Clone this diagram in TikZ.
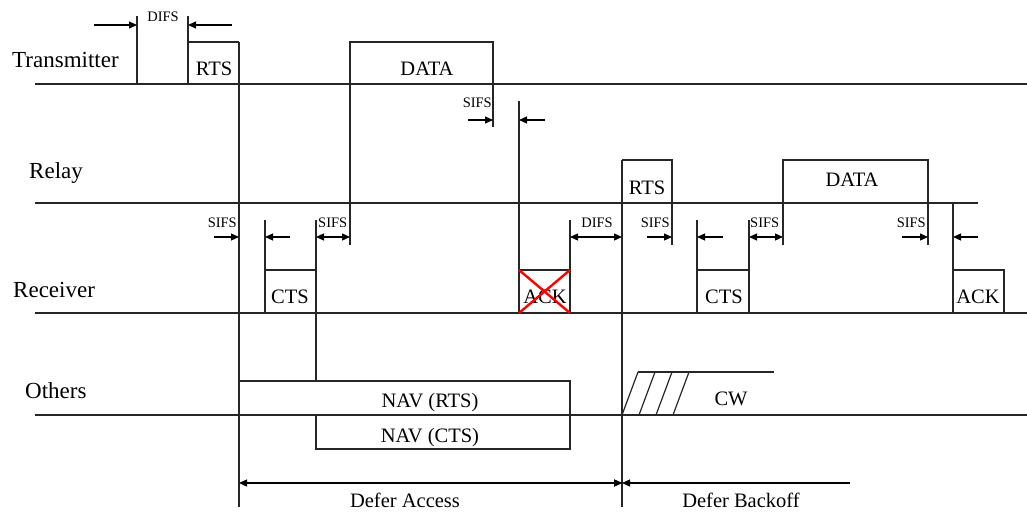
\documentclass[tikz,border=0pt]{standalone}
\usepackage{fontspec}
\setmainfont{Liberation Serif}
\usepackage{tikz}
\usetikzlibrary{arrows.meta}
\tikzset{
  >={Triangle[length=8pt,width=7pt]},
  every picture/.style={line cap=butt, line join=miter},
  lane/.style={black!85, line width=1.2pt},
  gapmark/.style={black, line width=1.2pt},
  fail/.style={red, line width=2.4pt},
  sidelbl/.style={font=\fontsize{23}{26}\selectfont, inner sep=0pt, anchor=base west},
  framelbl/.style={font=\fontsize{20.5}{24}\selectfont, inner sep=0pt, anchor=base},
  gaplbl/.style={font=\fontsize{14.5}{16}\selectfont, inner sep=0pt, anchor=base},
}
\begin{document}
\begin{tikzpicture}[x=1pt, y=-1pt]
\useasboundingbox (0,0) rectangle (1027,511);
% station time lines
\draw[lane] (35,84) -- (1027,84);
\draw[lane] (35,203) -- (978,203);
\draw[lane] (35,313) -- (1027,313);
\draw[lane] (35,415) -- (1027,415);
\node[sidelbl] (tx) at (12,67) {Transmitter};
\node[sidelbl] (relay) at (29,178) {Relay};
\node[sidelbl] (rx) at (13,297) {Receiver};
\node[sidelbl] (oth) at (25,398) {Others};
% transmitter: DIFS, RTS, DATA
\draw[lane] (137,16) -- (137,84);
\draw[lane] (188,16) -- (188,84);
\draw[lane] (188,42) -- (239,42);
\draw[lane] (239,42) -- (239,507);
\draw[gapmark, ->] (94,25) -- (137,25);
\draw[gapmark, ->] (232,25) -- (188,25);
\node[gaplbl] (difs1) at (163,22) {DIFS};
\node[framelbl] (rts1) at (214,75) {RTS};
\draw[lane] (350,245) -- (350,42) -- (493,42) -- (493,127);
\node[framelbl] (data1) at (427,75) {DATA};
\draw[lane] (519,101) -- (519,313);
\draw[gapmark, ->] (468,120) -- (493,120);
\draw[gapmark, ->] (545,120) -- (519,120);
\node[gaplbl, anchor=base east] (sifs1) at (492,107) {SIFS};
% receiver: CTS, lost ACK
\draw[gapmark, ->] (214,237) -- (239,237);
\node[gaplbl, anchor=base east] (sifs2) at (237,227) {SIFS};
\draw[lane] (265,220) -- (265,313);
\draw[lane] (265,270) -- (316,270);
\draw[lane] (316,220) -- (316,381);
\draw[gapmark, ->] (290,237) -- (265,237);
\node[framelbl] (cts1) at (290,303) {CTS};
\draw[gapmark, <->] (316,237) -- (350,237);
\node[gaplbl, anchor=base west] (sifs3) at (318,227) {SIFS};
\draw[lane] (519,270) -- (570,270);
\draw[lane] (570,220) -- (570,313);
\node[framelbl] (ack1) at (545,303) {ACK};
\draw[fail] (519,270) -- (570,313);
\draw[fail] (570,270) -- (519,313);
\draw[gapmark, <->] (570,237) -- (622,237);
\node[gaplbl] (difs2) at (597,227) {DIFS};
% relay: RTS, DATA
\draw[lane] (622,160) -- (622,507);
\draw[lane] (622,160) -- (672,160) -- (672,245);
\node[framelbl] (rts2) at (647,194) {RTS};
\draw[gapmark, ->] (647,237) -- (672,237);
\node[gaplbl, anchor=base east] (sifs4) at (670,227) {SIFS};
\draw[lane] (697,220) -- (697,313);
\draw[lane] (697,270) -- (749,270);
\draw[lane] (749,220) -- (749,313);
\draw[gapmark, ->] (723,237) -- (697,237);
\node[framelbl] (cts2) at (724,303) {CTS};
\draw[gapmark, <->] (749,237) -- (783,237);
\node[gaplbl, anchor=base west] (sifs5) at (750,227) {SIFS};
\draw[lane] (783,245) -- (783,160) -- (928,160) -- (928,245);
\node[framelbl] (data2) at (852,186) {DATA};
\draw[gapmark, ->] (902,237) -- (928,237);
\node[gaplbl, anchor=base east] (sifs6) at (926,227) {SIFS};
\draw[lane] (953,203) -- (953,313);
\draw[lane] (953,270) -- (1004,270) -- (1004,313);
\draw[gapmark, ->] (978,237) -- (953,237);
\node[framelbl] (ack2) at (978,303) {ACK};
% others: NAV and contention window
\draw[lane] (239,381) rectangle (570,415);
\draw[lane] (316,415) rectangle (570,449);
\node[framelbl] (navrts) at (430,407) {NAV (RTS)};
\node[framelbl] (navcts) at (430,442) {NAV (CTS)};
\draw[lane] (638,372) -- (774,372);
\foreach \s in {0,17,34,51}
  \draw[lane] (622+\s,415) -- (638+\s,372);
\node[framelbl] (cw) at (731,405) {CW};
% defer spans
\draw[gapmark, <->] (239,483) -- (622,483);
\draw[gapmark, ->] (600,483) -- (622,483);
\draw[gapmark, ->] (850,483) -- (622,483);
\node[framelbl] (defacc) at (405,507) {Defer Access};
\node[framelbl] (defbo) at (741,507) {Defer Backoff};
\end{tikzpicture}
\end{document}
